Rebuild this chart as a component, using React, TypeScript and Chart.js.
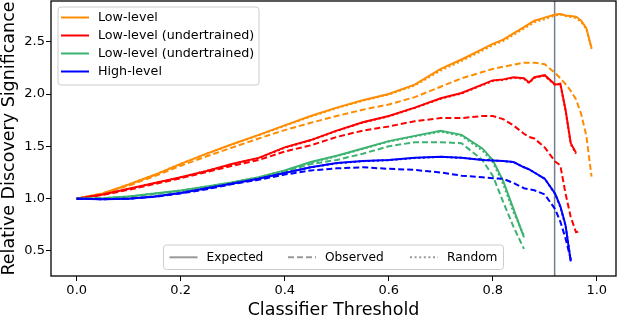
import React, { useEffect, useRef } from "react";
import { Chart, registerables } from "chart.js";
Chart.register(...registerables);

// ---------- data ----------
const thresholds = [0, 0.05, 0.1, 0.15, 0.2, 0.25, 0.3, 0.35, 0.4, 0.45, 0.5, 0.55, 0.6, 0.65, 0.7, 0.74, 0.78, 0.8, 0.82, 0.84, 0.86, 0.87, 0.88, 0.9, 0.92, 0.93, 0.94, 0.95, 0.96, 0.97, 0.98, 0.99];

const lowExpected = [1.0, 1.05, 1.135, 1.228, 1.333, 1.43, 1.522, 1.61, 1.7, 1.79, 1.87, 1.94, 2.0, 2.09, 2.24, 2.33, 2.43, 2.48, 2.52, 2.58, 2.64, 2.67, 2.7, 2.73, 2.76, 2.765, 2.75, 2.745, 2.74, 2.7, 2.63, 2.44];
const lowObserved = [1.0, 1.05, 1.125, 1.215, 1.315, 1.405, 1.49, 1.575, 1.655, 1.725, 1.79, 1.85, 1.9, 1.97, 2.07, 2.15, 2.21, 2.24, 2.26, 2.28, 2.3, 2.3, 2.3, 2.285, 2.2, 2.15, 2.095, 2.03, 1.95, 1.81, 1.6, 1.21];
const lowRandom = [1.0, 1.05, 1.135, 1.228, 1.333, 1.43, 1.52, 1.605, 1.695, 1.785, 1.865, 1.935, 1.995, 2.08, 2.225, 2.315, 2.415, 2.465, 2.505, 2.565, 2.625, 2.655, 2.685, 2.715, 2.75, 2.76, 2.745, 2.735, 2.725, 2.69, 2.62, 2.43];

const redExpected = [1.0, 1.04, 1.095, 1.15, 1.205, 1.265, 1.333, 1.39, 1.49, 1.56, 1.65, 1.73, 1.79, 1.87, 1.96, 2.01, 2.09, 2.13, 2.14, 2.16, 2.15, 2.11, 2.16, 2.18, 2.09, 2.1, 1.85, 1.53, 1.44, null, null, null];
const redObserved = [1.0, 1.035, 1.085, 1.14, 1.195, 1.255, 1.315, 1.37, 1.45, 1.51, 1.59, 1.65, 1.69, 1.74, 1.77, 1.77, 1.79, 1.79, 1.76, 1.7, 1.62, 1.59, 1.575, 1.49, 1.355, 1.317, 1.048, 0.825, 0.68, 0.69, null, null];
const redRandom = [1.0, 1.04, 1.095, 1.15, 1.205, 1.265, 1.33, 1.388, 1.487, 1.557, 1.647, 1.727, 1.787, 1.867, 1.955, 2.005, 2.085, 2.125, 2.135, 2.155, 2.145, 2.105, 2.155, 2.175, 2.085, 2.095, 1.84, 1.52, 1.43, null, null, null];

const greenExpected = [1.0, 1.005, 1.02, 1.05, 1.079, 1.117, 1.158, 1.206, 1.27, 1.35, 1.41, 1.48, 1.55, 1.6, 1.65, 1.61, 1.48, 1.37, 1.17, 0.9, 0.63, null, null, null, null, null, null, null, null, null, null, null];
const greenObserved = [1.0, 1.005, 1.018, 1.045, 1.07, 1.105, 1.15, 1.2, 1.26, 1.33, 1.37, 1.43, 1.5, 1.54, 1.54, 1.53, 1.37, 1.22, 0.97, 0.73, 0.52, null, null, null, null, null, null, null, null, null, null, null];
const greenRandom = [1.0, 1.005, 1.02, 1.05, 1.078, 1.115, 1.156, 1.204, 1.268, 1.345, 1.405, 1.475, 1.545, 1.595, 1.64, 1.6, 1.46, 1.35, 1.14, 0.87, 0.65, null, null, null, null, null, null, null, null, null, null, null];

const blueExpected = [1.0, 0.995, 1.0, 1.02, 1.055, 1.1, 1.145, 1.19, 1.245, 1.3, 1.34, 1.36, 1.37, 1.39, 1.4, 1.39, 1.37, 1.365, 1.36, 1.35, 1.3, 1.28, 1.25, 1.19, 1.048, 0.927, 0.746, 0.4, null, null, null, null];
const blueObserved = [1.0, 0.995, 1.0, 1.018, 1.05, 1.09, 1.14, 1.18, 1.23, 1.27, 1.29, 1.3, 1.285, 1.275, 1.25, 1.22, 1.205, 1.195, 1.19, 1.15, 1.1, 1.09, 1.08, 1.04, 0.9, 0.78, 0.62, 0.42, null, null, null, null];
const blueRandom = [1.0, 0.995, 1.0, 1.02, 1.055, 1.1, 1.145, 1.19, 1.245, 1.3, 1.338, 1.358, 1.368, 1.388, 1.4, 1.39, 1.372, 1.365, 1.36, 1.35, 1.3, 1.28, 1.25, 1.19, 1.045, 0.92, 0.74, 0.41, null, null, null, null];

const modelNames = ["Low-level", "Low-level (undertrained)", "Low-level (undertrained)", "High-level"];
const modelColors = ["#ff8c00", "#ff0000", "#3cb371", "#0000ff"];
const styleNames = ["Expected", "Observed", "Random"];
const xTicks = [0, 0.2, 0.4, 0.6, 0.8, 1.0];
const yTicks = [0.5, 1.0, 1.5, 2.0, 2.5];
const cutThreshold = 0.919;
const xMin = -0.0494;
const xMax = 1.037;
const yMin = 0.261;
const yMax = 2.889;

const FONT = "'DejaVu Sans', sans-serif";
const DASHES: number[][] = [[], [6, 3], [2, 2.6]];

const series = [
  [lowExpected, lowObserved, lowRandom],
  [redExpected, redObserved, redRandom],
  [greenExpected, greenObserved, greenRandom],
  [blueExpected, blueObserved, blueRandom],
];

function toPoints(values: (number | null)[]) {
  const pts: { x: number; y: number }[] = [];
  thresholds.forEach((x, i) => {
    const v = values[i];
    if (v !== null && v !== undefined) pts.push({ x, y: v });
  });
  return pts;
}

const decorPlugin = {
  id: "decor",
  beforeDatasetsDraw(chart: any) {
    const { ctx, chartArea, scales } = chart;
    const px = scales.x.getPixelForValue(cutThreshold);
    ctx.save();
    ctx.strokeStyle = "#708090";
    ctx.lineWidth = 1.5;
    ctx.beginPath();
    ctx.moveTo(px, chartArea.top);
    ctx.lineTo(px, chartArea.bottom);
    ctx.stroke();
    ctx.restore();
  },
  afterDraw(chart: any) {
    const { ctx, chartArea } = chart;
    ctx.save();
    // frame
    ctx.strokeStyle = "#000";
    ctx.lineWidth = 1.3;
    ctx.strokeRect(chartArea.left, chartArea.top, chartArea.right - chartArea.left, chartArea.bottom - chartArea.top);

    const box = (x: number, y: number, w: number, h: number) => {
      ctx.beginPath();
      (ctx as any).roundRect(x, y, w, h, 3);
      ctx.fillStyle = "rgba(255,255,255,0.8)";
      ctx.fill();
      ctx.strokeStyle = "#cccccc";
      ctx.lineWidth = 1;
      ctx.stroke();
    };
    const entry = (x: number, y: number, color: string, dash: number[], label: string, size: number) => {
      ctx.save();
      ctx.strokeStyle = color;
      ctx.lineWidth = 2;
      ctx.setLineDash(dash);
      ctx.beginPath();
      ctx.moveTo(x, y);
      ctx.lineTo(x + 28, y);
      ctx.stroke();
      ctx.restore();
      ctx.fillStyle = "#000";
      ctx.font = `${size}px ${FONT}`;
      ctx.textAlign = "left";
      ctx.textBaseline = "middle";
      ctx.fillText(label, x + 37, y + 0.5);
    };

    // model legend (upper left)
    const bx = chartArea.left + 7;
    const by = chartArea.top + 6;
    box(bx, by, 201, 78);
    modelNames.forEach((name, i) => {
      entry(bx + 3, by + 10.5 + i * 18, modelColors[i], [], name, 12.7);
    });

    // style legend (lower center)
    const cx = (chartArea.left + chartArea.right) / 2;
    const lw = 340;
    const lx = cx - lw / 2;
    const ly = chartArea.bottom - 6.5 - 24.5;
    box(lx, ly, lw, 24.5);
    const offs = [6, 124.5, 246.5];
    styleNames.forEach((name, i) => {
      entry(lx + offs[i], ly + 12.3, "rgba(128,128,128,0.8)", DASHES[i], name, 12.2);
    });
    ctx.restore();
  },
};

export default function App() {
  const ref = useRef<HTMLCanvasElement | null>(null);
  useEffect(() => {
    document.body.style.margin = "0";
    const datasets: any[] = [];
    series.forEach((group, m) => {
      group.forEach((vals, s) => {
        datasets.push({
          label: `${modelNames[m]} ${styleNames[s]}`,
          data: toPoints(vals),
          borderColor: modelColors[m],
          backgroundColor: modelColors[m],
          borderWidth: 2,
          borderDash: DASHES[s],
          pointRadius: 0,
          tension: 0,
          fill: false,
        });
      });
    });
    // Chart.js paints dataset 0 last; reverse so that later series sit on top
    datasets.reverse();
    const chart = new Chart(ref.current as HTMLCanvasElement, {
      type: "line",
      data: { datasets },
      options: {
        animation: false,
        responsive: false,
        maintainAspectRatio: false,
        layout: { padding: { left: 0, right: 2, top: 1, bottom: 0 } },
        plugins: { legend: { display: false }, tooltip: { enabled: false } },
        scales: {
          x: {
            type: "linear",
            min: xMin,
            max: xMax,
            afterBuildTicks: (s: any) => {
              s.ticks = xTicks.map((v) => ({ value: v }));
            },
            afterFit: (s: any) => {
              s.height = 42;
              s.paddingLeft = 0;
              s.paddingRight = 0;
            },
            grid: { display: true, drawOnChartArea: false, drawTicks: true, tickLength: 5, color: "#000", lineWidth: 1 },
            border: { display: false },
            ticks: {
              color: "#000",
              font: { family: FONT, size: 13 },
              padding: 2,
              autoSkip: false,
              maxRotation: 0,
              callback: (v: any) => Number(v).toFixed(1),
            },
            title: {
              display: true,
              text: "Classifier Threshold",
              color: "#000",
              font: { family: FONT, size: 17.5, lineHeight: 0.85 },
              padding: 0,
            },
          },
          y: {
            type: "linear",
            min: yMin,
            max: yMax,
            afterBuildTicks: (s: any) => {
              s.ticks = yTicks.map((v) => ({ value: v }));
            },
            afterFit: (s: any) => {
              s.width = 51;
              s.paddingTop = 0;
              s.paddingBottom = 0;
            },
            grid: { display: true, drawOnChartArea: false, drawTicks: true, tickLength: 5, color: "#000", lineWidth: 1 },
            border: { display: false },
            ticks: {
              color: "#000",
              font: { family: FONT, size: 13 },
              padding: 1,
              autoSkip: false,
              callback: (v: any) => Number(v).toFixed(1),
            },
            title: {
              display: true,
              text: "Relative Discovery Significance",
              color: "#000",
              font: { family: FONT, size: 17.5, lineHeight: 0.85 },
              padding: { top: 1.6, bottom: 0 },
            },
          },
        },
      },
      plugins: [decorPlugin],
    } as any);
    return () => chart.destroy();
  }, []);
  return (
    <div style={{ width: 618, height: 318 }}>
      <canvas ref={ref} width={618} height={318} />
    </div>
  );
}
